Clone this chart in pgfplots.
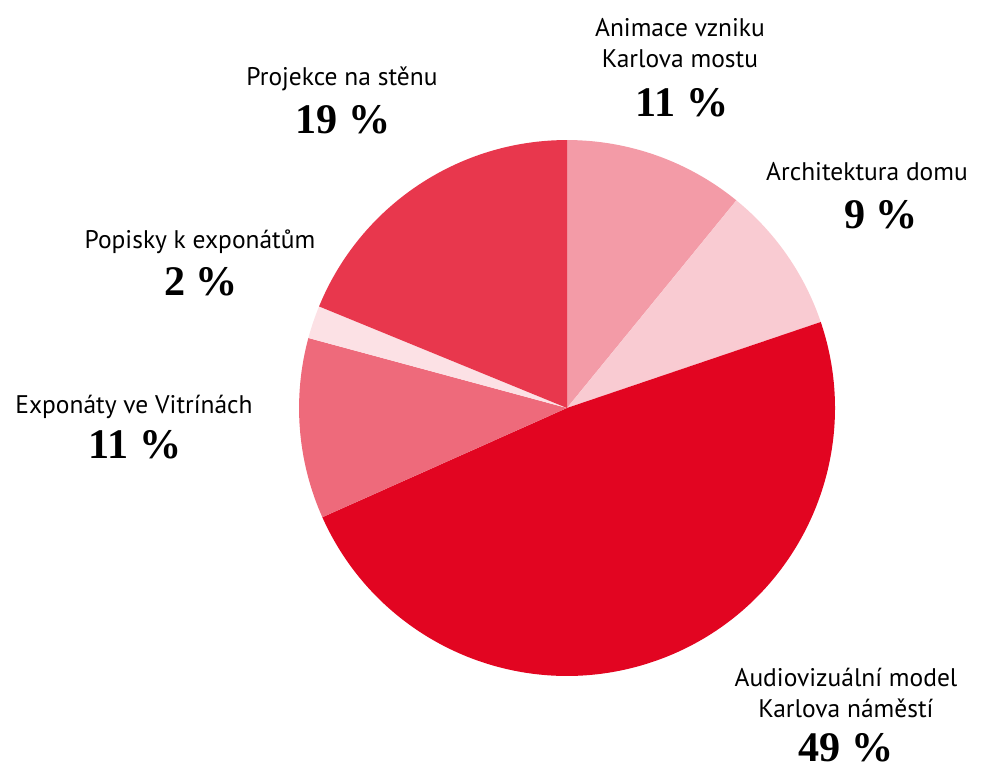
\documentclass[border=0pt]{standalone}
\usepackage{pgfplots}
\pgfplotsset{compat=1.18}
\usepackage{fontspec}
\setmainfont{PT Sans}
\newfontfamily\numfont{Liberation Serif}

\definecolor{cAnim}{RGB}{243,155,167}
\definecolor{cArch}{RGB}{249,203,210}
\definecolor{cAudio}{RGB}{226,5,33}
\definecolor{cExpo}{RGB}{238,106,123}
\definecolor{cPopis}{RGB}{252,225,229}
\definecolor{cProj}{RGB}{232,55,77}

\tikzset{
  lbl/.style={anchor=base, font=\fontsize{14.5}{17}\selectfont},
  pct/.style={anchor=base, font=\fontsize{24}{28}\selectfont\numfont\bfseries},
}

\begin{document}
\begin{tikzpicture}
\begin{axis}[
    x=0.02cm, y=0.02cm,
    xmin=0, xmax=992, ymin=0, ymax=767,
    hide axis, clip=false,
]
    \path (axis cs:0,0) rectangle (axis cs:992,767);

    % shares (sum 101), clockwise from the top
    \fill[cAnim]  (axis cs:567,359) -- ++(90:5.36cm)
        arc[start angle=90, end angle={90-11/101*360}, radius=5.36cm] -- cycle;
    \fill[cArch]  (axis cs:567,359) -- ++({90-11/101*360}:5.36cm)
        arc[start angle={90-11/101*360}, end angle={90-20/101*360}, radius=5.36cm] -- cycle;
    \fill[cAudio] (axis cs:567,359) -- ++({90-20/101*360}:5.36cm)
        arc[start angle={90-20/101*360}, end angle={90-69/101*360}, radius=5.36cm] -- cycle;
    \fill[cExpo]  (axis cs:567,359) -- ++({90-69/101*360}:5.36cm)
        arc[start angle={90-69/101*360}, end angle={90-80/101*360}, radius=5.36cm] -- cycle;
    \fill[cPopis] (axis cs:567,359) -- ++({90-80/101*360}:5.36cm)
        arc[start angle={90-80/101*360}, end angle={90-82/101*360}, radius=5.36cm] -- cycle;
    \fill[cProj]  (axis cs:567,359) -- ++({90-82/101*360}:5.36cm)
        arc[start angle={90-82/101*360}, end angle=-270, radius=5.36cm] -- cycle;

    % labels
    \node[lbl] at (axis cs:680,730) {Animace vzniku};
    \node[lbl] at (axis cs:680,699) {Karlova mostu};
    \node[pct] at (axis cs:682,650) {11 \%};

    \node[lbl] at (axis cs:867,586) {Architektura domu};
    \node[pct] at (axis cs:881,538) {9 \%};

    \node[lbl] at (axis cs:846,80) {Audiovizuální model};
    \node[lbl] at (axis cs:846,49) {Karlova náměstí};
    \node[pct] at (axis cs:846,5) {49 \%};

    \node[lbl] at (axis cs:134,353) {Exponáty ve Vitrínách};
    \node[pct] at (axis cs:135,308) {11 \%};

    \node[lbl] at (axis cs:200,518) {Popisky k exponátům};
    \node[pct] at (axis cs:201,471) {2 \%};

    \node[lbl] at (axis cs:342,681) {Projekce na stěnu};
    \node[pct] at (axis cs:343,633) {19 \%};
\end{axis}
\end{tikzpicture}
\end{document}
